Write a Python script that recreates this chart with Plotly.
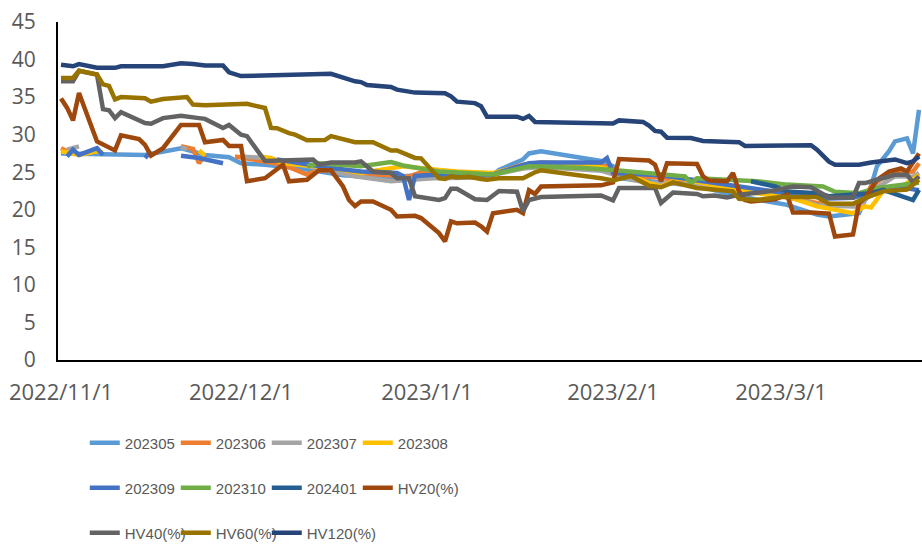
import pandas as pd
import plotly.graph_objects as go

# day offsets counted from 2022-11-01, values in %
START = pd.Timestamp("2022-11-01")

s202305_day = [0, 14, 20, 24, 28, 30, 34, 40, 47, 53, 60, 66, 72, 73, 77, 78, 80, 90, 92, 93,
               98, 106, 113, 121, 126, 128, 133, 135, 136, 138, 139, 141, 142, 143]
s202305 = [27.5, 27.3, 28.2, 27.3, 27.0, 26.2, 26.0, 25.5, 24.6, 24.3, 24.6, 24.5, 24.7, 25.3, 26.7,
           27.5, 27.8, 26.5, 25.8, 24.2, 23.8, 23.2, 21.8, 20.65, 19.35, 19.1, 19.55, 23.1, 25.8,
           27.8, 29.1, 29.5, 27.5, 33.3]

s202306_day = [0, 1, None, 20, 22, 23, 24, None, 29, 34, 37, 41, 43, 47, 53, 58, 60, 66, 72, 77,
               80, 90, 95, 100, 106, 113, 120, 124, 128, 133, 135, 138, 142, 143]
s202306 = [28.2, 27.8, None, 28.45, 28.1, 26.2, 27.3, None, 27.1, 26.4, 26.0, 24.7, 25.3, 25.0,
           24.7, 24.4, 25.0, 24.6, 24.8, 26.0, 26.3, 26.0, 24.5, 24.3, 23.5, 22.8, 21.8, 21.2, 20.6,
           20.6, 23.1, 24.9, 25.1, 26.2]

s202307_day = [1, 3, None, 20, 21, None, 30, 34, 40, 49, 55, 58, 62, 70, 77, 80, 90, 95, 98, 105,
               113, 120, 126, 133, 136, 139, 142, 143]
s202307 = [28.0, 28.45, None, 28.3, 28.1, None, 27.1, 26.9, 26.0, 24.45, 23.8, 24.0, 24.2, 24.3,
           25.5, 25.7, 25.2, 24.0, 23.6, 23.4, 22.9, 22.3, 20.6, 20.4, 23.0, 24.45, 24.4, 24.9]

s202308_day = [0, 3, 6, 7, None, 23, 24, None, 33, 35, 37, 45, 50, 55, 57, 63, 66, 72, 77, 80,
               87, 94, 98, 100, 103, 111, 116, 121, 126, 132, 134, 135, 137, 140, 143]
s202308 = [27.8, 27.3, 27.8, 27.6, None, 27.9, 27.2, None, 27.1, 26.9, 26.2, 25.6, 24.9, 25.5,
           25.8, 25.3, 25.1, 24.9, 25.8, 26.0, 26.2, 24.9, 23.55, 23.1, 24.2, 22.9, 22.2, 21.8,
           20.45, 19.55, 20.45, 20.3, 22.5, 23.0, 24.6]

s202309_day = [1, 2, 3, 6, 7, None, 14, 15, None, 20, 23, 27, None, 36, 45, 50, 56, 57, 58, 59,
               63, 72, 78, 80, 90, 91, 92, 100, 106, 113, 121, 128, 132, 137, 140, 143]
s202309 = [27.1, 28.0, 27.3, 28.2, 27.3, None, 26.9, 27.8, None, 27.2, 26.9, 26.2, None, 26.7,
           25.55, 25.1, 24.9, 24.5, 21.3, 24.5, 24.7, 24.7, 26.2, 26.3, 26.3, 26.9, 24.9, 24.6,
           23.9, 23.0, 22.2, 21.5, 21.6, 22.65, 23.0, 22.6]

s202310_day = [41, 43, 50, 55, 57, 62, 63, 72, 78, 87, 92, 104, 105, 106, 116, 121, 127, 129,
               133, 136, 141, 143]
s202310 = [25.8, 26.2, 25.8, 26.35, 25.9, 25.3, 25.1, 24.7, 25.8, 25.55, 25.3, 24.45, 23.55, 24.2,
           23.8, 23.35, 23.1, 22.4, 22.2, 22.9, 23.35, 23.6]

s202401_day = [115, 119, 121, 126, 128, 132, 135, 137, 140, 142, 143]
s202401 = [23.8, 23.1, 22.45, 22.2, 21.8, 22.0, 22.2, 22.65, 21.8, 21.3, 22.65]

hv20_day = [0, 1, 2, 3, 6, 9, 10, 13, 14, 15, 17, 20, 23, 24, 27, 28, 30, 31, 34, 36, 37, 38,
            41, 43, 45, 47, 48, 49, 50, 52, 55, 56, 59, 60, 63, 64, 65, 66, 69, 70, 71, 72, 76,
            77, 78, 79, 80, 90, 92, 93, 98, 99, 100, 101, 106, 107, 108, 111, 112, 113, 114,
            115, 119, 121, 122, 125, 128, 129, 132, 133, 134, 136, 138, 140, 141, 143]
hv20 = [34.8, 33.6, 31.9, 35.55, 29.1, 27.9, 29.9, 29.4, 28.65, 27.2, 28.2, 31.3, 31.3, 29.0,
        29.3, 28.5, 28.5, 23.8, 24.2, 25.4, 26.0, 23.8, 24.0, 25.25, 25.25, 23.1, 21.3, 20.5,
        21.1, 21.1, 20.0, 19.1, 19.2, 18.9, 16.9, 15.8, 18.45, 18.2, 18.3, 17.8, 17.1, 19.55,
        20.0, 19.55, 22.6, 22.1, 23.1, 23.25, 23.65, 26.75, 26.55, 26.0, 23.8, 26.2, 26.1, 24.45,
        23.9, 23.8, 24.9, 22.45, 21.3, 21.1, 21.4, 22.0, 19.65, 19.65, 19.5, 16.45, 16.7, 20.9,
        21.55, 24.0, 25.1, 25.5, 25.1, 27.5]

hv40_day = [0, 2, 3, 6, 7, 8, 9, 10, 14, 15, 17, 20, 23, 24, 27, 28, 30, 31, 34, 42, 43, 45,
            49, 50, 52, 55, 56, 58, 59, 61, 63, 64, 65, 66, 69, 71, 73, 76, 77, 78, 80, 90, 92,
            93, 99, 100, 102, 106, 107, 109, 111, 113, 118, 122, 125, 128, 132, 133, 134, 136,
            139, 141, 142, 143]
hv40 = [37.1, 37.1, 38.5, 38.0, 33.4, 33.25, 32.2, 33.0, 31.55, 31.45, 32.2, 32.5, 32.2, 32.1,
        30.9, 31.3, 30.0, 29.8, 26.5, 26.7, 26.0, 26.3, 26.3, 26.45, 25.1, 24.9, 24.2, 24.2,
        21.8, 21.55, 21.3, 21.55, 22.8, 22.8, 21.4, 21.3, 22.5, 22.4, 19.8, 21.3, 21.7, 21.9,
        21.25, 22.9, 22.9, 20.9, 22.3, 22.1, 21.8, 21.9, 21.65, 22.0, 22.45, 23.1, 23.0, 21.65,
        21.65, 23.55, 23.55, 24.0, 24.65, 24.65, 23.65, 24.45]

hv60_day = [0, 2, 3, 6, 7, 8, 9, 10, 14, 15, 17, 21, 22, 24, 31, 34, 35, 36, 38, 39, 41, 44,
            45, 49, 52, 55, 56, 59, 60, 63, 64, 65, 66, 68, 70, 71, 73, 77, 79, 80, 90, 92, 95,
            98, 100, 102, 106, 112, 113, 116, 120, 124, 126, 128, 132, 134, 137, 141, 143]
hv60 = [37.55, 37.55, 38.5, 38.0, 36.7, 36.5, 34.7, 35.0, 34.85, 34.4, 34.75, 35.0, 34.0, 33.9,
        34.1, 33.55, 30.9, 30.85, 30.2, 30.0, 29.25, 29.3, 29.8, 29.0, 29.0, 27.9, 27.9, 26.9,
        26.85, 24.2, 24.1, 24.45, 24.3, 24.4, 24.1, 24.0, 24.2, 24.2, 25.0, 25.25, 24.2, 23.9,
        24.5, 23.2, 23.0, 23.65, 22.9, 22.45, 21.45, 21.3, 21.7, 21.8, 21.7, 20.8, 20.8, 21.55,
        22.45, 22.7, 24.0]

hv120_day = [0, 2, 3, 6, 9, 10, 17, 20, 22, 24, 27, 28, 30, 34, 41, 45, 49, 50, 51, 55, 56, 59,
             64, 65, 66, 69, 70, 71, 76, 77, 78, 79, 92, 93, 97, 98, 99, 100, 101, 105, 107, 113,
             114, 120, 125, 126, 128, 129, 133, 135, 139, 141, 142, 143]
hv120 = [39.3, 39.1, 39.4, 38.9, 38.9, 39.1, 39.1, 39.5, 39.4, 39.2, 39.2, 38.3, 37.8, 37.9, 38.0,
         38.1, 37.1, 37.0, 36.6, 36.35, 36.0, 35.6, 35.5, 35.1, 34.4, 34.2, 33.8, 32.4, 32.4, 32.1,
         32.5, 31.7, 31.5, 31.9, 31.7, 31.2, 30.5, 30.4, 29.6, 29.55, 29.15, 29.0, 28.5, 28.6,
         28.6, 28.0, 26.4, 26.0, 26.0, 26.3, 26.7, 26.2, 26.45, 27.1]

tick_dates = ["2022-11-01", "2022-12-01", "2023-01-01", "2023-02-01", "2023-03-01"]
tick_text = ["2022/11/1", "2022/12/1", "2023/1/1", "2023/2/1", "2023/3/1"]

series = [
    ("202305", s202305_day, s202305, "#5B9BD5", "legend"),
    ("202306", s202306_day, s202306, "#ED7D31", "legend"),
    ("202307", s202307_day, s202307, "#A5A5A5", "legend"),
    ("202308", s202308_day, s202308, "#FFC000", "legend"),
    ("202309", s202309_day, s202309, "#4472C4", "legend2"),
    ("202310", s202310_day, s202310, "#70AD47", "legend2"),
    ("202401", s202401_day, s202401, "#255E91", "legend2"),
    ("HV20(%)", hv20_day, hv20, "#9E480E", "legend2"),
    ("HV40(%)", hv40_day, hv40, "#636363", "legend3"),
    ("HV60(%)", hv60_day, hv60, "#997300", "legend3"),
    ("HV120(%)", hv120_day, hv120, "#264478", "legend3"),
]
row_ends = {"202308", "HV20(%)", "HV120(%)"}


def to_dates(days):
    return [START + pd.Timedelta(days=d) if d is not None else None for d in days]


fig = go.Figure()
for name, days, vals, color, leg in series:
    fig.add_trace(go.Scatter(
        x=to_dates(days), y=vals, mode="lines", name=name, legend=leg,
        line=dict(color=color, width=4.5),
        legendwidth=90 if name in row_ends else None,
    ))

TEXT = "#595959"
leg_common = dict(
    orientation="h", x=0.031, xanchor="left", yanchor="middle",
    entrywidth=46, bgcolor="rgba(0,0,0,0)", traceorder="normal",
    font=dict(family="Liberation Sans", size=15, color=TEXT),
)

fig.update_layout(
    width=922, height=546,
    margin=dict(l=58, r=0, t=22, b=186, autoexpand=False),
    paper_bgcolor="white", plot_bgcolor="white",
    font=dict(family="Open Sans", size=21, color=TEXT),
    legend=dict(leg_common, y=-0.2456),
    legend2=dict(leg_common, y=-0.3787),
    legend3=dict(leg_common, y=-0.5118),
    xaxis=dict(
        type="date", range=["2022-10-31 12:00", "2023-03-24 12:00"],
        tickvals=tick_dates, ticktext=tick_text, showgrid=False, zeroline=False,
        showline=True, linecolor="black", linewidth=2, ticks="", ticklabelstandoff=12,
        tickfont=dict(size=22), ticklabeloverflow="allow",
    ),
    yaxis=dict(
        range=[0, 45], tickvals=list(range(0, 50, 5)), showgrid=False, zeroline=False,
        showline=True, linecolor="black", linewidth=2, ticks="", ticklabelstandoff=16,
        ticklabeloverflow="allow",
    ),
)

# drop the default page margin so the 922x546 figure fills the window exactly
fig.write_html(
    "out.html",
    config={"displayModeBar": False},
    post_script="document.body.style.margin='0';document.body.style.overflow='hidden';",
)
